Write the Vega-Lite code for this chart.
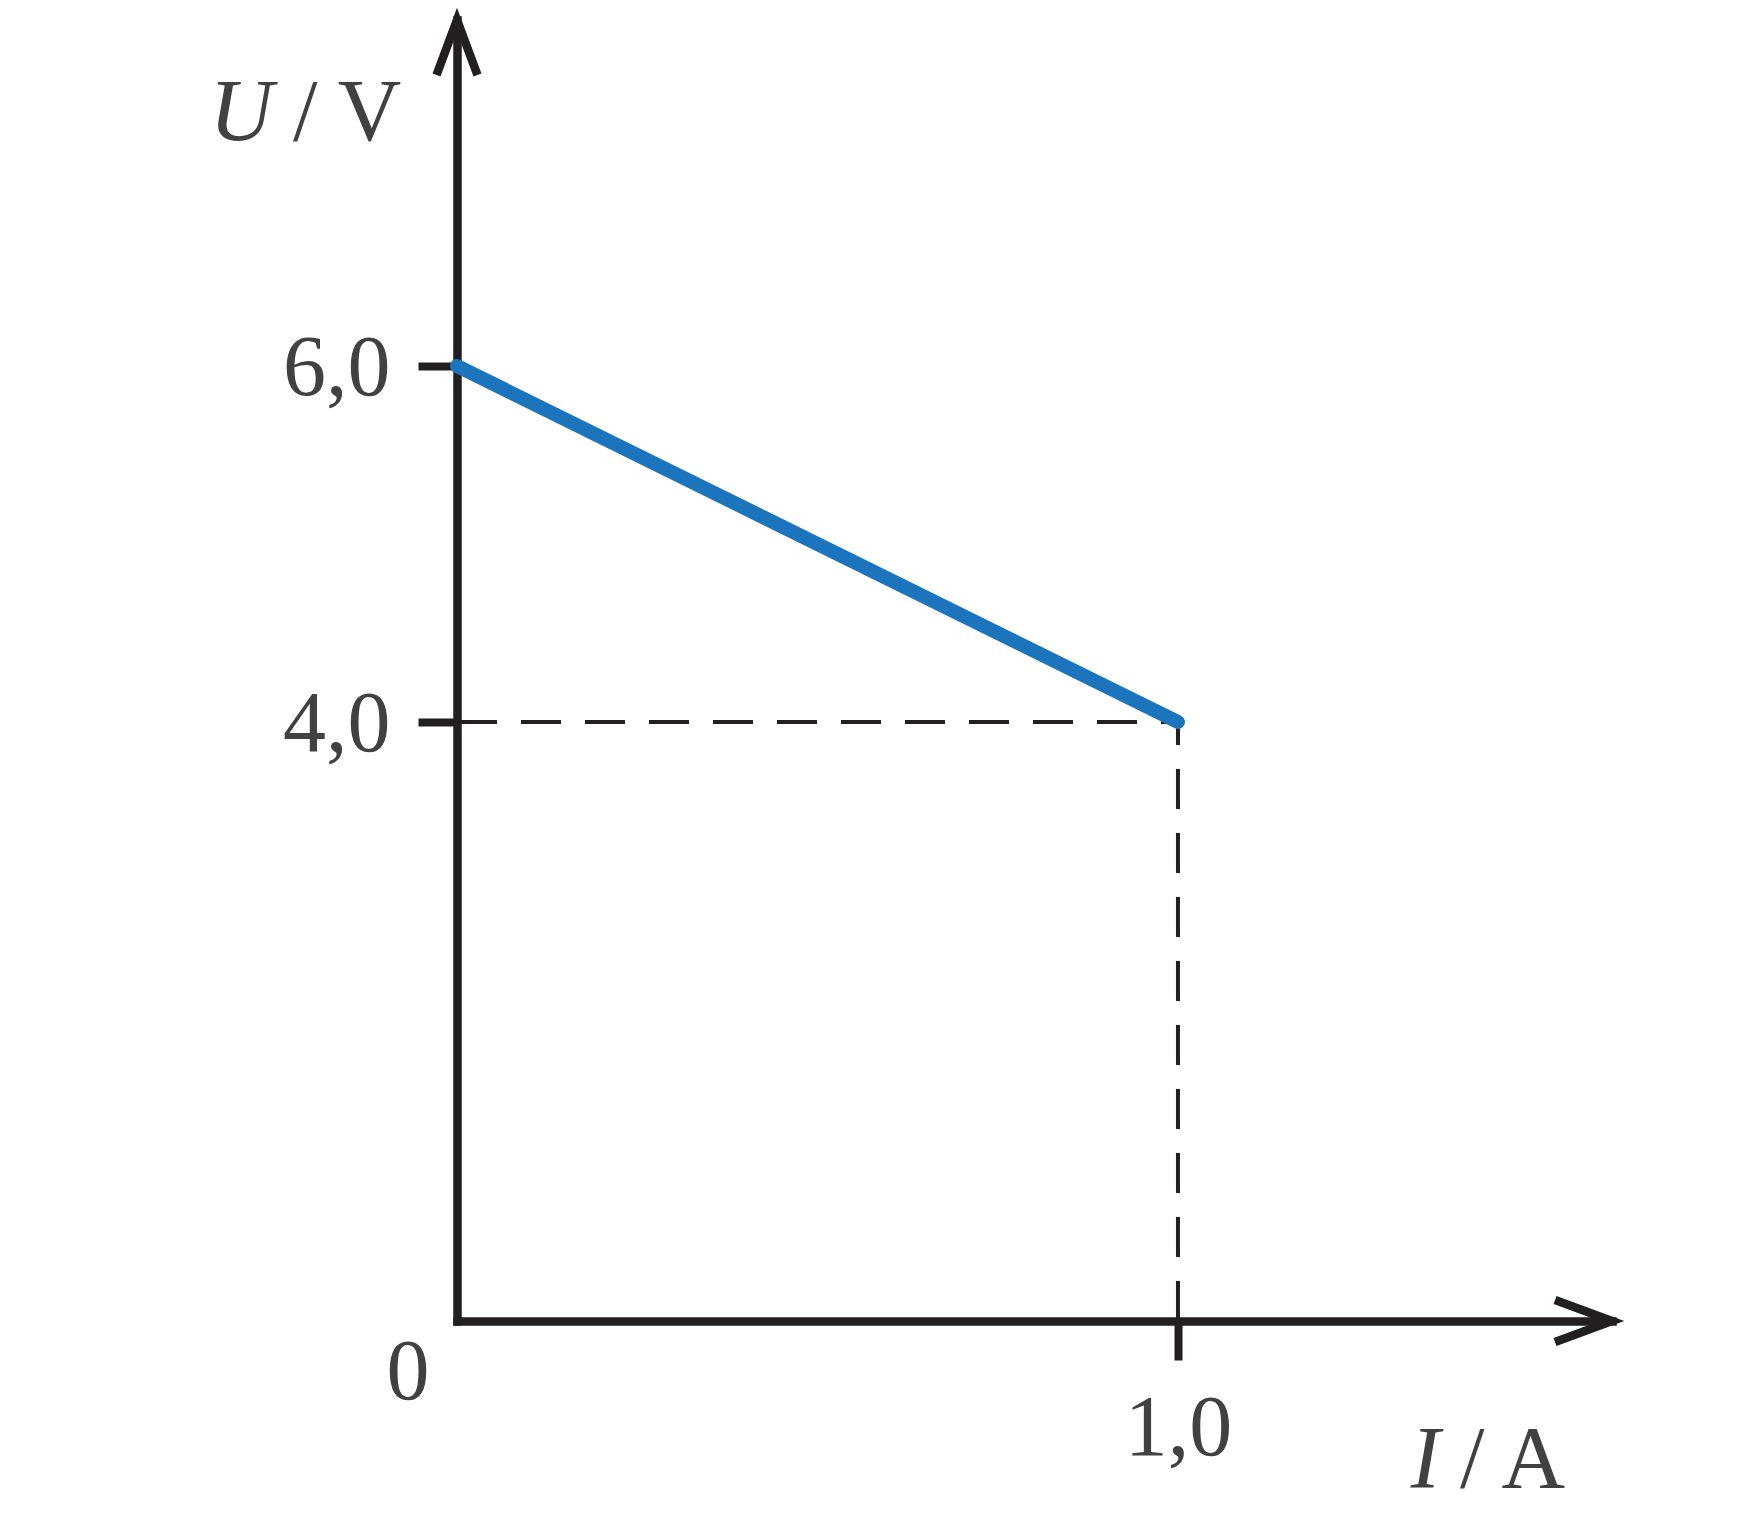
{
  "$schema": "https://vega.github.io/schema/vega-lite/v6.json",
  "description": "U-I characteristic of a source: terminal voltage drops from 6,0 V to 4,0 V at 1,0 A.",
  "autosize": "none",
  "width": 1155,
  "height": 1301,
  "padding": {"left": 457, "top": 20, "right": 148, "bottom": 199},
  "background": "white",
  "datasets": {
    "curve": [
      {"I": 0, "U": 6},
      {"I": 1, "U": 4}
    ],
    "guides": [
      {"I": 0, "I2": 1, "U": 4, "U2": 4},
      {"I": 1, "I2": 1, "U": 0, "U2": 4}
    ],
    "arrows": [
      {"axis": "I", "step": 0, "I": 1.523, "U": 0.14},
      {"axis": "I", "step": 1, "I": 1.602, "U": 0},
      {"axis": "I", "step": 2, "I": 1.523, "U": -0.14},
      {"axis": "U", "step": 0, "I": -0.0284, "U": 9.364},
      {"axis": "U", "step": 1, "I": 0, "U": 10},
      {"axis": "U", "step": 2, "I": 0.0284, "U": 9.364}
    ],
    "origin": [
      {"I": 0, "U": 0, "text": "0"}
    ],
    "uTitle": [
      {"I": 0, "U": 10, "sym": "U", "unit": "/ V"}
    ],
    "iTitle": [
      {"I": 1.602, "U": 0, "sym": "I", "unit": "/ A"}
    ]
  },
  "encoding": {
    "x": {
      "field": "I",
      "type": "quantitative",
      "scale": {"domain": [0, 1.602], "zero": false, "nice": false},
      "axis": {
        "values": [1],
        "format": ".1f",
        "labelExpr": "replace(datum.label, '.', ',')",
        "labelAlign": "center",
        "labelBaseline": "top",
        "labelPadding": 26,
        "tickSize": 39,
        "title": null
      }
    },
    "y": {
      "field": "U",
      "type": "quantitative",
      "scale": {
        "domain": [0, 4, 6, 10],
        "range": [1301, 702, 346, 0],
        "zero": false,
        "nice": false
      },
      "axis": {
        "values": [4, 6],
        "format": ".1f",
        "labelExpr": "replace(datum.label, '.', ',')",
        "labelAlign": "right",
        "labelBaseline": "middle",
        "labelOffset": 2,
        "labelPadding": 28,
        "tickSize": 39,
        "title": null
      }
    }
  },
  "layer": [
    {
      "data": {"name": "guides"},
      "mark": {
        "type": "rule",
        "color": "#231f20",
        "strokeWidth": 4,
        "strokeDash": [40, 24]
      },
      "encoding": {
        "x2": {"field": "I2"},
        "y2": {"field": "U2"}
      }
    },
    {
      "data": {"name": "arrows"},
      "mark": {
        "type": "line",
        "color": "#231f20",
        "strokeWidth": 8.5,
        "strokeJoin": "miter",
        "strokeCap": "butt"
      },
      "encoding": {
        "detail": {"field": "axis"},
        "order": {"field": "step"}
      }
    },
    {
      "data": {"name": "curve"},
      "mark": {
        "type": "line",
        "color": "#1c75bc",
        "strokeWidth": 14,
        "strokeCap": "round"
      },
      "encoding": {}
    },
    {
      "data": {"name": "origin"},
      "mark": {
        "type": "text",
        "font": "Liberation Serif",
        "fontSize": 86,
        "color": "#414042",
        "align": "center",
        "baseline": "middle",
        "dx": -49,
        "dy": 52
      },
      "encoding": {"text": {"field": "text"}}
    },
    {
      "data": {"name": "uTitle"},
      "layer": [
        {
          "mark": {
            "type": "text",
            "font": "Liberation Serif",
            "fontSize": 88,
            "fontStyle": "italic",
            "color": "#414042",
            "align": "right",
            "baseline": "alphabetic",
            "dx": -184,
            "dy": 120
          },
          "encoding": {"text": {"field": "sym"}}
        },
        {
          "mark": {
            "type": "text",
            "font": "Liberation Serif",
            "fontSize": 88,
            "color": "#414042",
            "align": "left",
            "baseline": "alphabetic",
            "dx": -164,
            "dy": 120
          },
          "encoding": {"text": {"field": "unit"}}
        }
      ]
    },
    {
      "data": {"name": "iTitle"},
      "layer": [
        {
          "mark": {
            "type": "text",
            "font": "Liberation Serif",
            "fontSize": 88,
            "fontStyle": "italic",
            "color": "#414042",
            "align": "right",
            "baseline": "alphabetic",
            "dx": -172,
            "dy": 166
          },
          "encoding": {"text": {"field": "sym"}}
        },
        {
          "mark": {
            "type": "text",
            "font": "Liberation Serif",
            "fontSize": 88,
            "color": "#414042",
            "align": "left",
            "baseline": "alphabetic",
            "dx": -152,
            "dy": 166
          },
          "encoding": {"text": {"field": "unit"}}
        }
      ]
    }
  ],
  "config": {
    "view": {"stroke": null},
    "axis": {
      "grid": false,
      "domainColor": "#231f20",
      "domainWidth": 8.5,
      "domainCap": "square",
      "tickColor": "#231f20",
      "tickWidth": 8,
      "labelFont": "Liberation Serif",
      "labelFontSize": 86,
      "labelColor": "#414042",
      "labelFlush": false,
      "labelOverlap": false
    }
  }
}
